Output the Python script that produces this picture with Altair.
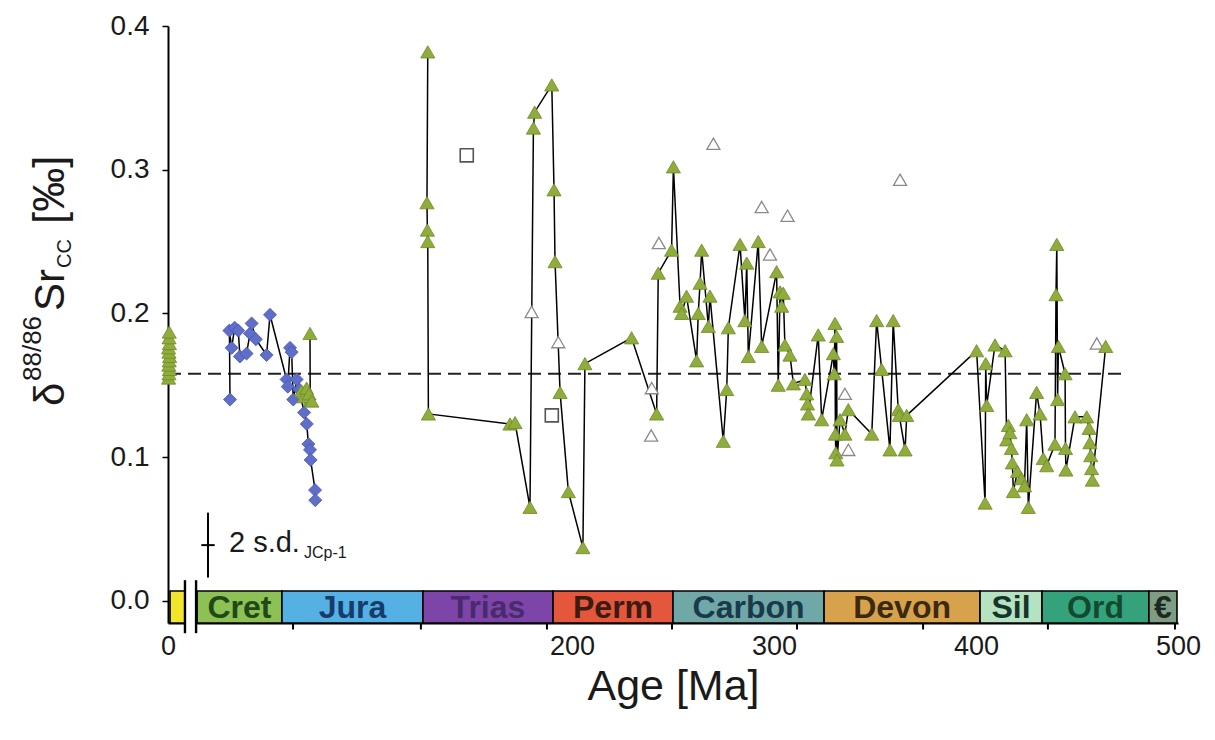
import altair as alt
import pandas as pd

FONT = "Liberation Sans"

# ---------------- data ----------------
# modern seawater / recent carbonates at ~0 Ma (green, no line)
modern_age = [0.3, 0.5, 0.7, 0.4, 0.6, 0.8, 0.5, 0.3, 0.7, 0.5, 0.6]
modern_val = [0.155, 0.158, 0.161, 0.164, 0.167, 0.170, 0.173, 0.176, 0.179, 0.183, 0.187]

# green group near 70 Ma
g1_age = [70.3, 70.4, 66.0, 67.3, 68.6, 69.8, 71.2]
g1_val = [0.186, 0.140, 0.146, 0.142, 0.148, 0.144, 0.139]

# main green record (ordered as connected by the line)
g2_age = [128.6, 128.2, 128.4, 128.6, 128.9, 169.3, 171.8, 179.2, 180.9, 181.5,
          190.0, 191.1, 191.6, 194.1, 198.2, 205.4, 206.4, 229.5, 241.9, 242.7,
          249.3, 250.2, 253.5, 254.3, 256.7, 261.7, 262.5, 263.4, 264.2, 267.5,
          268.3, 274.9, 276.6, 277.4, 283.2, 285.6, 286.5, 287.3, 292.2, 293.9,
          301.3, 302.1, 303.0, 303.8, 304.6, 305.4, 307.9, 309.6, 315.3, 316.2,
          316.6, 317.0, 321.9, 323.6, 329.4, 329.8, 330.2, 330.4, 330.6, 331.0,
          331.2, 332.7, 335.1, 336.8, 348.4, 350.8, 353.3, 357.4, 359.0, 361.5,
          362.0, 364.9, 365.7, 400.3, 404.5, 404.8, 405.3, 409.4, 414.4, 415.2,
          416.0, 416.8, 417.5, 418.0, 418.5, 420.5, 422.5, 424.0, 425.1, 425.9,
          430.0, 431.7, 433.3, 435.0, 439.1, 439.6, 440.0, 440.4, 440.8, 444.1,
          444.3, 444.5, 449.0, 454.8, 456.0, 456.4, 456.8, 457.2, 457.6, 464.2]
g2_val = [0.382, 0.277, 0.258, 0.250, 0.130, 0.123, 0.124, 0.065, 0.329, 0.340,
          0.359, 0.286, 0.236, 0.145, 0.076, 0.037, 0.165, 0.183, 0.130, 0.228,
          0.244, 0.302, 0.205, 0.200, 0.212, 0.167, 0.200, 0.221, 0.244, 0.191,
          0.212, 0.111, 0.147, 0.190, 0.248, 0.195, 0.235, 0.170, 0.250, 0.177,
          0.229, 0.150, 0.215, 0.205, 0.214, 0.178, 0.171, 0.151, 0.154, 0.144,
          0.137, 0.130, 0.185, 0.126, 0.172, 0.158, 0.193, 0.116, 0.103, 0.184,
          0.098, 0.126, 0.116, 0.133, 0.116, 0.195, 0.161, 0.105, 0.195, 0.133,
          0.129, 0.105, 0.129, 0.174, 0.068, 0.165, 0.136, 0.178, 0.174, 0.112,
          0.122, 0.117, 0.106, 0.096, 0.076, 0.090, 0.085, 0.080, 0.126, 0.065,
          0.145, 0.130, 0.099, 0.094, 0.109, 0.213, 0.248, 0.140, 0.177, 0.158,
          0.106, 0.091, 0.128, 0.128, 0.120, 0.110, 0.101, 0.092, 0.084, 0.177]

# blue diamonds (ordered as connected by the line)
blue_age = [30.7, 30.4, 31.5, 33.0, 34.8, 35.6, 38.9, 40.6, 41.4, 43.5, 48.8, 50.5,
            58.7, 59.3, 60.4, 61.2, 62.0, 63.7, 65.0, 67.4, 68.7, 69.5, 70.3, 70.6,
            72.8, 72.9]
blue_val = [0.140, 0.188, 0.176, 0.190, 0.188, 0.170, 0.172, 0.186, 0.193, 0.182, 0.171, 0.199,
            0.154, 0.149, 0.176, 0.173, 0.140, 0.154, 0.147, 0.131, 0.123, 0.109, 0.105, 0.098,
            0.077, 0.070]

# open triangles
open_tri_age = [180.0, 193.2, 239.2, 239.5, 243.0, 270.0, 293.9, 298.0, 306.7, 335.1, 336.8, 362.4, 459.8]
open_tri_val = [0.201, 0.180, 0.115, 0.148, 0.249, 0.318, 0.274, 0.241, 0.268, 0.144, 0.105, 0.293, 0.179]

# open squares
open_sq_age = [147.9, 190.0]
open_sq_val = [0.310, 0.129]

# mean line
mean_val = 0.158
mean_end = 471.8

# geological time bar (in axis units)
period_names = ["", "Cret", "Jura", "Trias", "Perm", "Carbon", "Devon", "Sil", "Ord", "€"]
period_start = [1.0, 14.4, 56.4, 126.2, 190.6, 250.0, 324.8, 402.0, 432.7, 485.6]
period_end = [8.4, 56.4, 126.2, 190.6, 250.0, 324.8, 402.0, 432.7, 485.6, 499.5]
period_fill = ["#f2e52b", "#8dc155", "#55b0e4", "#7d45a8", "#e4573c", "#6fa8a6",
               "#d8a24c", "#b5e3c2", "#34a37c", "#7f9c84"]
period_text = ["#000000", "#1f4a17", "#173c6b", "#4a2a6e", "#3b1b12", "#183a4a",
               "#3b2a10", "#15352a", "#124a30", "#1a2a20"]
bar_ticks = [61.9, 125.2, 187.6, 249.5, 311.4, 373.8, 435.6, 498.5]
BAR_TOP = 0.0068
BAR_BOTTOM = -0.0155
break_x = [8.4, 13.9]

x_ticks = [0, 200, 300, 400, 500]
y_ticks = [0.0, 0.1, 0.2, 0.3, 0.4]

# 2 s.d. error bar
sd_age = 19.8
sd_center = 0.0387
sd_half = 0.0226

GREEN = "#8fac3c"
GREEN_EDGE = "#6d8a26"
BLUE = "#5f6ec8"
BLUE_EDGE = "#4756b0"

# ---------------- frames ----------------
xs = alt.Scale(domain=[0, 500], nice=False, zero=False)
ys = alt.Scale(domain=[BAR_BOTTOM, 0.4], nice=False, zero=False)

XAXIS = alt.Axis(values=x_ticks, title="Age [Ma]", ticks=False, domain=True,
                 domainColor="black", domainWidth=2, labelFontSize=27,
                 labelFont=FONT, titleFont=FONT, titleFontSize=43,
                 titleFontWeight="normal", labelColor="#1a1a1a",
                 titleColor="#1a1a1a", labelPadding=10, titlePadding=6,
                 grid=False, zindex=0, labelFlush=False)
YAXIS = alt.Axis(values=y_ticks, format=".1f", title=None, ticks=True,
                 tickSize=6, tickColor="black", tickWidth=1.5,
                 domainColor="black", domainWidth=2, labelFontSize=28,
                 labelFont=FONT, labelColor="#1a1a1a", labelPadding=13,
                 grid=False, zindex=0, labelFlush=False)

modern_df = pd.DataFrame({"age": modern_age, "val": modern_val, "grp": 0})
g1_df = pd.DataFrame({"age": g1_age, "val": g1_val, "grp": 1})
g2_df = pd.DataFrame({"age": g2_age, "val": g2_val, "grp": 2})
green_df = pd.concat([modern_df, g1_df, g2_df], ignore_index=True)
green_df["idx"] = range(len(green_df))
line_df = green_df[green_df["grp"] > 0]

blue_df = pd.DataFrame({"age": blue_age, "val": blue_val})
blue_df["idx"] = range(len(blue_df))

otri_df = pd.DataFrame({"age": open_tri_age, "val": open_tri_val})
osq_df = pd.DataFrame({"age": open_sq_age, "val": open_sq_val})

bar_df = pd.DataFrame({"name": period_names, "start": period_start, "end": period_end,
                       "fill": period_fill, "tcol": period_text})
bar_df["mid"] = (bar_df["start"] + bar_df["end"]) / 2
bar_df["top"] = BAR_TOP
bar_df["bottom"] = BAR_BOTTOM
bar_df["cy"] = (BAR_TOP + BAR_BOTTOM) / 2


def X(f):
    return alt.X(f, scale=xs, axis=XAXIS)


def Y(f):
    return alt.Y(f, scale=ys, axis=YAXIS)


bar = alt.Chart(bar_df).mark_rect(stroke="black", strokeWidth=1.6).encode(
    x=X("start:Q"), x2="end:Q", y=Y("top:Q"), y2="bottom:Q",
    fill=alt.Fill("fill:N", scale=None),
)

bar_text = alt.Chart(bar_df).mark_text(font=FONT, fontSize=32, fontWeight="bold",
                                       baseline="middle", align="center", dy=1).encode(
    x=X("mid:Q"), y=Y("cy:Q"), text="name:N", color=alt.Color("tcol:N", scale=None))

gap_df = pd.DataFrame({"a": [break_x[0]], "b": [break_x[1]], "t": [0.005], "u": [-0.019]})
gap = alt.Chart(gap_df).mark_rect(fill="white").encode(
    x=X("a:Q"), x2="b:Q", y=Y("t:Q"), y2="u:Q")

brk_df = pd.DataFrame({"x": break_x, "t": 0.0143, "u": -0.0226})
breaks = alt.Chart(brk_df).mark_rule(color="black", strokeWidth=2.4).encode(
    x=X("x:Q"), y=Y("t:Q"), y2="u:Q")

bt_df = pd.DataFrame({"x": bar_ticks, "t": BAR_BOTTOM, "u": BAR_BOTTOM - 0.0045})
bticks = alt.Chart(bt_df).mark_rule(color="black", strokeWidth=2).encode(
    x=X("x:Q"), y=Y("t:Q"), y2="u:Q")

mean_df = pd.DataFrame({"a": [0.0], "b": [mean_end], "v": [mean_val]})
mean_rule = alt.Chart(mean_df).mark_rule(color="#222222", strokeWidth=2,
                                         strokeDash=[13, 7]).encode(
    x=X("a:Q"), x2="b:Q", y=Y("v:Q"))

blue_line = alt.Chart(blue_df).mark_line(color="black", strokeWidth=1.5).encode(
    x=X("age:Q"), y=Y("val:Q"), order="idx:Q")
green_line = alt.Chart(line_df).mark_line(color="black", strokeWidth=1.5).encode(
    x=X("age:Q"), y=Y("val:Q"), detail="grp:N", order="idx:Q")

blue_pts = alt.Chart(blue_df).mark_point(shape="diamond", size=170, filled=True,
                                         fill=BLUE, stroke=BLUE_EDGE, strokeWidth=0.8,
                                         opacity=1).encode(x=X("age:Q"), y=Y("val:Q"))
green_pts = alt.Chart(green_df).mark_point(shape="triangle-up", size=200, filled=True,
                                           fill=GREEN, stroke=GREEN_EDGE, strokeWidth=0.8,
                                           opacity=1).encode(x=X("age:Q"), y=Y("val:Q"))
otri = alt.Chart(otri_df).mark_point(shape="triangle-up", size=170, filled=True,
                                     fill="white", stroke="#8a8a8a", strokeWidth=1.3,
                                     opacity=1).encode(x=X("age:Q"), y=Y("val:Q"))
osq = alt.Chart(osq_df).mark_point(shape="square", size=170, filled=True,
                                   fill="white", stroke="#555555", strokeWidth=1.6,
                                   opacity=1).encode(x=X("age:Q"), y=Y("val:Q"))

# 2 s.d. annotation
sd_df = pd.DataFrame({"x": [sd_age], "lo": [sd_center - sd_half], "hi": [sd_center + sd_half],
                      "c": [sd_center], "xa": [sd_age - 3.3], "xb": [sd_age + 3.3]})
sd_v = alt.Chart(sd_df).mark_rule(color="black", strokeWidth=2).encode(
    x=X("x:Q"), y=Y("lo:Q"), y2="hi:Q")
sd_h = alt.Chart(sd_df).mark_rule(color="black", strokeWidth=2).encode(
    x=X("xa:Q"), x2="xb:Q", y=Y("c:Q"))


def txt(s, x, y, size, angle=0, align="left", baseline="alphabetic"):
    kw = dict(font=FONT, fontSize=size, align=align, baseline=baseline, color="#1a1a1a")
    if angle:
        kw["angle"] = angle
    return alt.Chart(pd.DataFrame({"t": [s]})).mark_text(**kw).encode(
        text="t:N", x=alt.value(x), y=alt.value(y))


sd_text = txt("2 s.d.", 61, 526, 29)
sd_sub = txt("JCp-1", 136, 532, 16)

# y title pieces (rotated, pixel positions relative to the plot origin)
yt = [
    txt("δ", -104, 380, 42, angle=270),
    txt("88/86", -127, 355, 26, angle=270),
    txt("Sr", -104, 285, 42, angle=270),
    txt("CC", -97, 242, 20, angle=270),
    txt("[‰]", -104, 198, 44, angle=270),
]

chart = alt.layer(
    bar, gap, bar_text, breaks, bticks, mean_rule, blue_line, green_line,
    otri, osq, blue_pts, green_pts, sd_v, sd_h, sd_text, sd_sub, *yt
).properties(
    width=1010, height=597,
    autosize=alt.AutoSizeParams(type="none"),
    padding={"left": 160, "top": 18, "right": 29, "bottom": 109},
    background="white",
).configure_view(stroke=None)

chart.save("out.html", embed_options={"renderer": "svg", "actions": False})
